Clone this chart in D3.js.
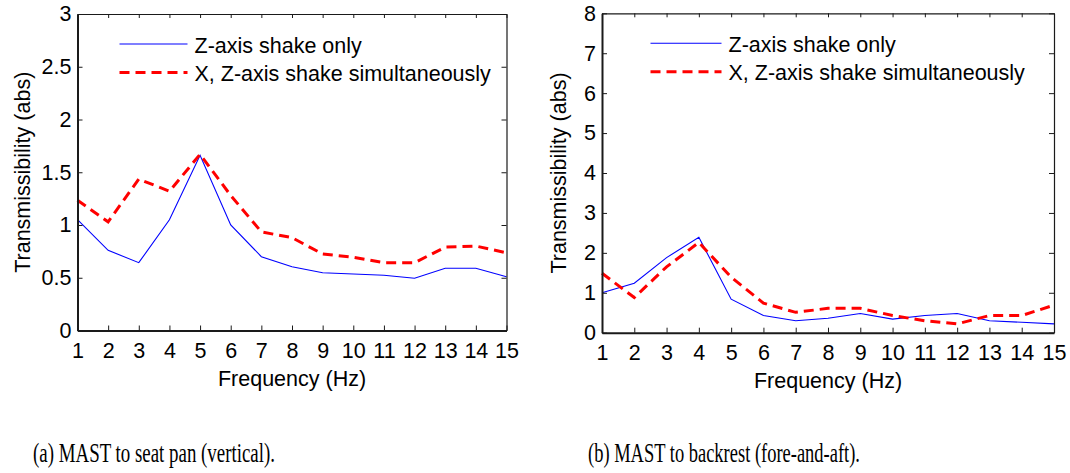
<!DOCTYPE html>
<html>
<head>
<meta charset="utf-8">
<script src="https://cdn.jsdelivr.net/npm/d3@7"></script>
<style>
  html, body { margin: 0; padding: 0; background: #fff; }
  svg { display: block; }
  .tick text { font-family: "Liberation Sans", Arial, sans-serif; font-size: 21.5px; fill: #000; }
  .lbl { font-family: "Liberation Sans", Arial, sans-serif; font-size: 21.5px; fill: #000; }
  .cap { font-family: "Liberation Serif", "Times New Roman", serif; font-size: 28px; fill: #000; }
</style>
</head>
<body>
<svg id="chart" width="1070" height="473"></svg>
<script>
// ─── Data ─────────────────────────────────────────
const freqs = [1, 2, 3, 4, 5, 6, 7, 8, 9, 10, 11, 12, 13, 14, 15];

// (a) MAST to seat pan (vertical)
const seatZOnly = [1.05, 0.76, 0.643, 1.05, 1.66, 1.0, 0.70, 0.605, 0.548, 0.535, 0.523, 0.495, 0.59, 0.59, 0.51];
const seatXZ    = [1.235, 1.03, 1.435, 1.32, 1.67, 1.28, 0.935, 0.88, 0.725, 0.694, 0.643, 0.643, 0.79, 0.80, 0.737];
const seatYTicks = [0, 0.5, 1, 1.5, 2, 2.5, 3];

// (b) MAST to backrest (fore-and-aft)
const backZOnly = [1.0, 1.24, 1.88, 2.39, 0.84, 0.43, 0.30, 0.36, 0.48, 0.34, 0.43, 0.48, 0.30, 0.26, 0.22];
const backXZ    = [1.49, 0.88, 1.65, 2.26, 1.39, 0.74, 0.51, 0.61, 0.61, 0.43, 0.30, 0.22, 0.43, 0.43, 0.69];
const backYTicks = [0, 1, 2, 3, 4, 5, 6, 7, 8];

const legendLabels = ['Z-axis shake only', 'X, Z-axis shake simultaneously'];
const xLabel = 'Frequency (Hz)';
const yLabel = 'Transmissibility (abs)';

const svg = d3.select('#chart');

// ─── One panel ────────────────────────────────────
function drawPanel(p) {
  const x = d3.scaleLinear().domain([1, 15]).range([p.left, p.right]);
  const y = d3.scaleLinear().domain([0, p.yMax]).range([p.bottom, p.top]);
  const g = svg.append('g');

  // lines first, axes on top
  const line = d3.line().x((d, i) => x(freqs[i])).y(d => y(d));
  g.append('path').datum(p.blue)
    .attr('fill', 'none').attr('stroke', '#0000ff').attr('stroke-width', 1.1)
    .attr('d', line);
  g.append('path').datum(p.red)
    .attr('fill', 'none').attr('stroke', '#ff0000').attr('stroke-width', 3)
    .attr('stroke-dasharray', '10,6')
    .attr('d', line);

  // axes: inward ticks, mirrored on top/right
  const ax = (sel, w) => {
    sel.select('.domain').attr('stroke', '#1a1a1a').attr('stroke-width', w);
    sel.selectAll('.tick line').attr('stroke', '#1a1a1a').attr('stroke-width', 1);
  };
  g.append('g').attr('transform', `translate(0,${p.bottom})`)
    .call(d3.axisBottom(x).tickValues(freqs).tickFormat(d3.format('d'))
      .tickSizeInner(-5).tickSizeOuter(0).tickPadding(12.5))
    .call(s => ax(s, 2));
  g.append('g').attr('transform', `translate(0,${p.top})`)
    .call(d3.axisTop(x).tickValues(freqs).tickFormat('')
      .tickSizeInner(-4).tickSizeOuter(0))
    .call(s => ax(s, 1.2));
  g.append('g').attr('transform', `translate(${p.left},0)`)
    .call(d3.axisLeft(y).tickValues(p.yTicks).tickFormat(d => String(d))
      .tickSizeInner(-5).tickSizeOuter(0).tickPadding(6))
    .call(s => ax(s, 2));
  g.append('g').attr('transform', `translate(${p.right},0)`)
    .call(d3.axisRight(y).tickValues(p.yTicks).tickFormat('')
      .tickSizeInner(-5).tickSizeOuter(0))
    .call(s => ax(s, 1.2));

  // axis labels
  g.append('text').attr('class', 'lbl')
    .attr('x', (p.left + p.right) / 2).attr('y', p.bottom + 55)
    .attr('text-anchor', 'middle').text(xLabel);
  g.append('text').attr('class', 'lbl')
    .attr('transform', `translate(${p.yLabelX},${(p.top + p.bottom) / 2}) rotate(-90)`)
    .attr('text-anchor', 'middle').text(yLabel);

  // legend (no box)
  const lg = g.append('g');
  [['#0000ff', 1.1, null], ['#ff0000', 3, '10,6']].forEach(function (st, i) {
    const ly = p.top + 30 + i * 28.5;
    lg.append('line')
      .attr('x1', p.legX).attr('x2', p.legX + p.legLen)
      .attr('y1', ly).attr('y2', ly)
      .attr('stroke', st[0]).attr('stroke-width', st[1])
      .attr('stroke-dasharray', st[2]);
    lg.append('text').attr('class', 'lbl')
      .attr('x', p.legX + p.legLen + 7).attr('y', ly + 8.5)
      .text(legendLabels[i]);
  });

  // caption
  g.append('text').attr('class', 'cap')
    .attr('x', p.capX).attr('y', 462)
    .attr('textLength', p.capW).attr('lengthAdjust', 'spacingAndGlyphs')
    .text(p.caption);
}

drawPanel({
  left: 77.5, right: 506.5, top: 14, bottom: 330.5, yMax: 3,
  yTicks: seatYTicks, blue: seatZOnly, red: seatXZ,
  yLabelX: 29.5, legX: 119.5, legLen: 68,
  caption: '(a) MAST to seat pan (vertical).', capX: 33, capW: 242
});

drawPanel({
  left: 602, right: 1054, top: 13.3, bottom: 332.7, yMax: 8,
  yTicks: backYTicks, blue: backZOnly, red: backXZ,
  yLabelX: 566, legX: 650.5, legLen: 71,
  caption: '(b) MAST to backrest (fore-and-aft).', capX: 588, capW: 272
});
</script>
</body>
</html>
